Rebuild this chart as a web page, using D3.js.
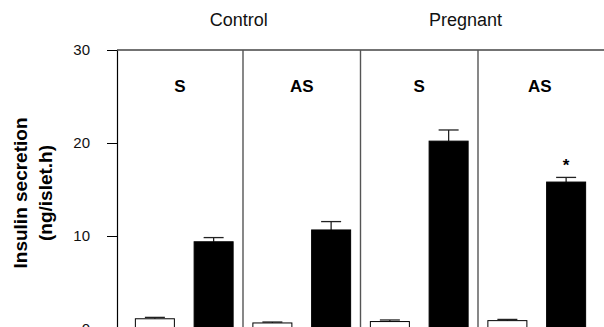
<!DOCTYPE html>
<html lang="en">
<head>
<meta charset="UTF-8">
<title>Insulin secretion</title>
<script src="https://cdn.jsdelivr.net/npm/d3@7"></script>
<style>
  body { margin: 0; background: #fff; }
  svg { display: block; font-family: Arial, "Liberation Sans", sans-serif; }
</style>
</head>
<body>
<div id="container"></div>
<script>
// data
const panels = ["Control S", "Control AS", "Pregnant S", "Pregnant AS"];
const panelLabels = ["S", "AS", "S", "AS"];
const groups = ["Control", "Pregnant"];
const basal = [1.1, 0.65, 0.8, 0.9];
const basalErr = [0.15, 0.1, 0.17, 0.13];
const stimulated = [9.38, 10.65, 20.2, 15.8];
const stimErr = [0.45, 0.9, 1.2, 0.5];
const significant = [false, false, false, true];
const yTicks = [0, 10, 20, 30];

const width = 604, height = 327;
const axisX = 117;

const svg = d3.select("#container").append("svg")
  .attr("width", width)
  .attr("height", height);

const x = d3.scaleBand()
  .domain(panels)
  .range([125.5, 595.5])
  .padding(0);

const xInner = d3.scaleBand()
  .domain(["basal", "stim"])
  .range([0, x.bandwidth()])
  .paddingInner(0.336)
  .paddingOuter(0.168);

const y = d3.scaleLinear()
  .domain([0, 30])
  .range([329, 50]);

// top frame line
svg.append("line")
  .attr("x1", axisX).attr("x2", width)
  .attr("y1", y(30)).attr("y2", y(30))
  .attr("stroke", "#444").attr("stroke-width", 1.3);

// panel dividers
svg.selectAll(".divider")
  .data(panels.slice(1))
  .join("line")
  .attr("class", "divider")
  .attr("x1", d => x(d)).attr("x2", d => x(d))
  .attr("y1", y(30)).attr("y2", y(0))
  .attr("stroke", "#555").attr("stroke-width", 1.4);

// y axis
const yAxis = svg.append("g")
  .attr("transform", `translate(${axisX},0)`)
  .call(d3.axisLeft(y).tickValues(yTicks).tickSize(10).tickPadding(17).tickSizeOuter(0));
yAxis.select(".domain").attr("stroke", "#000").attr("stroke-width", 1.2);
yAxis.selectAll(".tick line").attr("stroke", "#000");
yAxis.selectAll(".tick text")
  .attr("font-size", 15)
  .attr("font-family", "Arial, 'Liberation Sans', sans-serif")
  .attr("fill", "#111");

// y title
const title = svg.append("text")
  .attr("transform", "translate(0,193) rotate(-90)")
  .attr("text-anchor", "middle")
  .attr("font-weight", "bold")
  .attr("font-size", 19)
  .attr("fill", "#000");
title.append("tspan").attr("x", 0).attr("y", 27).text("Insulin secretion");
title.append("tspan").attr("x", 0).attr("y", 52).text("(ng/islet.h)");

// group labels
svg.append("text")
  .attr("x", (axisX + x("Pregnant S")) / 2)
  .attr("y", 26)
  .attr("text-anchor", "middle")
  .attr("font-size", 18)
  .attr("fill", "#111")
  .text(groups[0]);
svg.append("text")
  .attr("x", x("Pregnant S") + 105)
  .attr("y", 26)
  .attr("text-anchor", "middle")
  .attr("font-size", 18)
  .attr("fill", "#111")
  .text(groups[1]);

// panel labels
svg.selectAll(".plabel")
  .data(panels)
  .join("text")
  .attr("class", "plabel")
  .attr("x", (d, i) => i === 0 ? (axisX + x(panels[1])) / 2 : x(d) + x.bandwidth() / 2 + (i === 3 ? 3 : 0))
  .attr("y", 92)
  .attr("text-anchor", "middle")
  .attr("font-weight", "bold")
  .attr("font-size", 17)
  .attr("fill", "#000")
  .text((d, i) => panelLabels[i]);

// bars
const rows = [];
panels.forEach((p, i) => {
  rows.push({panel: p, kind: "basal", value: basal[i], err: basalErr[i], sig: false});
  rows.push({panel: p, kind: "stim", value: stimulated[i], err: stimErr[i], sig: significant[i]});
});
const cx = d => x(d.panel) + xInner(d.kind) + xInner.bandwidth() / 2;

// error bars (drawn first, stem hidden behind bar)
const eb = svg.selectAll(".err").data(rows).join("g").attr("class", "err")
  .attr("stroke", "#222").attr("stroke-width", 1.3);
eb.append("line")
  .attr("x1", cx).attr("x2", cx)
  .attr("y1", d => y(d.value)).attr("y2", d => y(d.value + d.err));
eb.append("line")
  .attr("x1", d => cx(d) - 10).attr("x2", d => cx(d) + 10)
  .attr("y1", d => y(d.value + d.err)).attr("y2", d => y(d.value + d.err));

svg.selectAll(".bar")
  .data(rows)
  .join("rect")
  .attr("class", "bar")
  .attr("x", d => x(d.panel) + xInner(d.kind))
  .attr("width", xInner.bandwidth())
  .attr("y", d => y(d.value))
  .attr("height", d => y(0) - y(d.value))
  .attr("fill", d => d.kind === "stim" ? "#000" : "#fff")
  .attr("stroke", "#000")
  .attr("stroke-width", 1);

// significance marks
svg.selectAll(".sig")
  .data(rows.filter(d => d.sig))
  .join("text")
  .attr("class", "sig")
  .attr("x", cx)
  .attr("y", d => y(d.value + d.err) - 6)
  .attr("text-anchor", "middle")
  .attr("font-weight", "bold")
  .attr("font-size", 17)
  .text("*");
</script>
</body>
</html>
